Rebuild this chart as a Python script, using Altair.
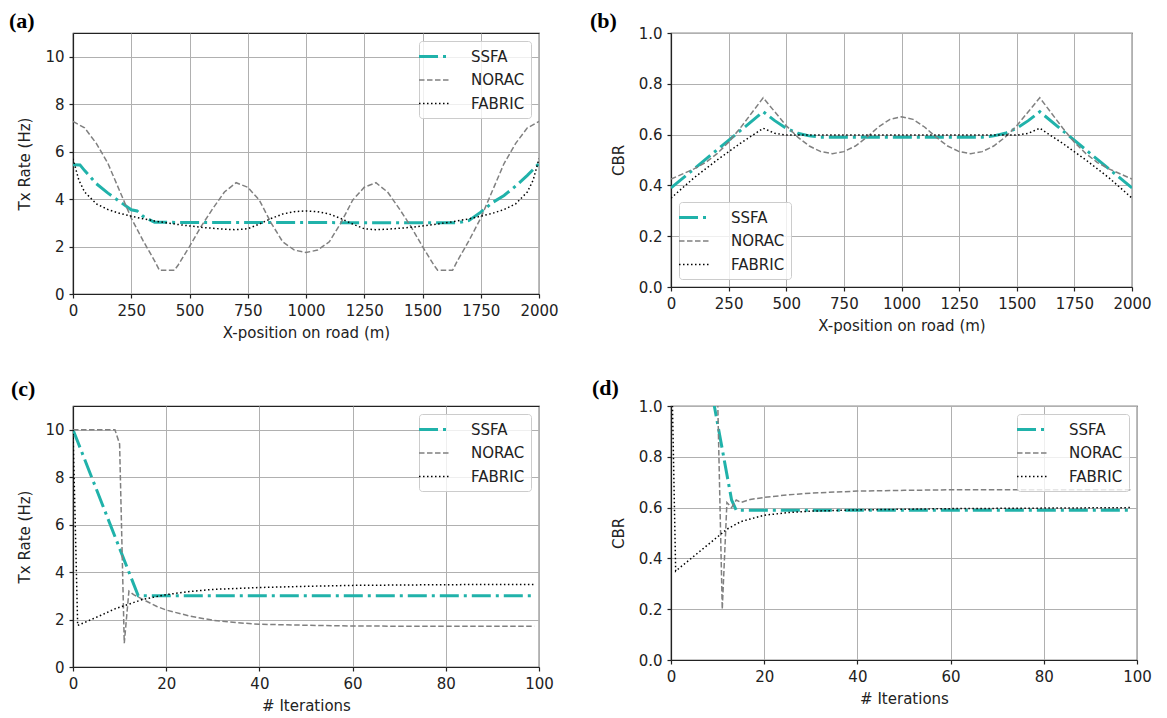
import altair as alt
import pandas as pd

SERIES = ["SSFA", "NORAC", "FABRIC"]
COLORS = ["#20b2aa", "#808080", "#000000"]
DASHES = [[19, 5, 3, 5], [5.5, 2.5], [1.5, 2.5]]
WIDTHS = [3.0, 1.5, 1.5]

# ---- panel (a): Tx rate vs position ----
a_ssfa_x = [0, 30, 50, 100, 150, 200, 250, 275, 300, 350, 1650, 1700, 1750, 1800, 1850, 1900, 1950, 2000]
a_ssfa_y = [5.45, 5.44, 5.2, 4.65, 4.25, 3.9, 3.55, 3.5, 3.28, 3.02, 3.0, 3.1, 3.45, 3.85, 4.15, 4.55, 5.0, 5.5]
a_norac_x = [0, 50, 100, 150, 200, 250, 300, 350, 371, 435, 450, 500, 550, 600, 650, 700, 750, 800, 850,
             900, 950, 1000, 1050, 1100, 1150, 1200, 1250, 1300, 1350, 1400, 1450, 1500, 1550, 1565, 1629,
             1650, 1700, 1750, 1800, 1850, 1900, 1950, 2000]
a_norac_y = [7.27, 7.0, 6.35, 5.5, 4.35, 3.2, 2.26, 1.4, 1.0, 1.0, 1.2, 2.0, 2.85, 3.6, 4.3, 4.69, 4.5, 3.95, 3.0,
             2.2, 1.85, 1.75, 1.85, 2.2, 3.0, 3.95, 4.5, 4.69, 4.3, 3.6, 2.85, 2.0, 1.2, 1.0, 1.0,
             1.4, 2.26, 3.2, 4.35, 5.5, 6.35, 7.0, 7.27]
a_fabric_x = [0, 25, 50, 100, 150, 200, 250, 300, 350, 400, 450, 500, 550, 600, 650, 700, 750, 800, 850, 900,
              950, 1000, 1050, 1100, 1150, 1200, 1250, 1300, 1350, 1400, 1450, 1500, 1550, 1600, 1650, 1700,
              1750, 1800, 1850, 1900, 1950, 1975, 2000]
a_fabric_y = [5.7, 4.8, 4.3, 3.8, 3.56, 3.4, 3.28, 3.17, 3.08, 3.0, 2.93, 2.87, 2.81, 2.77, 2.73, 2.71, 2.75,
              2.95, 3.18, 3.37, 3.47, 3.5, 3.47, 3.37, 3.18, 2.95, 2.75, 2.71, 2.73, 2.77, 2.81, 2.87, 2.93,
              3.0, 3.08, 3.17, 3.28, 3.4, 3.56, 3.8, 4.3, 4.8, 5.7]

# ---- panel (b): CBR vs position ----
b_ssfa_x = [0, 400, 450, 500, 550, 600, 650, 1350, 1400, 1450, 1500, 1550, 1600, 2000]
b_ssfa_y = [0.39, 0.69, 0.655, 0.625, 0.605, 0.595, 0.59, 0.59, 0.595, 0.605, 0.625, 0.655, 0.69, 0.39]
b_norac_x = [0, 100, 150, 200, 250, 300, 350, 400, 450, 500, 550, 600, 650, 700, 750, 800, 850, 900, 950,
             1000, 1050, 1100, 1150, 1200, 1250, 1300, 1350, 1400, 1450, 1500, 1550, 1600, 1650, 1700, 1750,
             1800, 1850, 1900, 2000]
b_norac_y = [0.425, 0.465, 0.49, 0.525, 0.57, 0.625, 0.685, 0.745, 0.69, 0.635, 0.59, 0.555, 0.533, 0.525,
             0.533, 0.555, 0.59, 0.63, 0.66, 0.67, 0.66, 0.63, 0.59, 0.555, 0.533, 0.525, 0.533, 0.555, 0.59,
             0.635, 0.69, 0.745, 0.685, 0.625, 0.57, 0.525, 0.49, 0.465, 0.425]
b_fabric_x = [0, 100, 200, 300, 400, 450, 500, 1500, 1550, 1600, 1700, 1800, 1900, 2000]
b_fabric_y = [0.35, 0.43, 0.5, 0.565, 0.625, 0.605, 0.598, 0.598, 0.605, 0.625, 0.565, 0.5, 0.43, 0.35]

# ---- panel (c): Tx rate vs iterations ----
c_ssfa_x = [0, 14, 99]
c_ssfa_y = [10, 3, 3]
c_norac_x = [0, 9, 10, 11, 12, 13, 14, 16, 18, 20, 25, 30, 35, 40, 50, 60, 70, 80, 99]
c_norac_y = [10, 10, 9.4, 1.0, 3.2, 3.05, 2.95, 2.75, 2.55, 2.4, 2.15, 1.97, 1.87, 1.8, 1.76, 1.73, 1.72, 1.72, 1.72]
c_fabric_x = [0, 1, 3, 6, 9, 12, 15, 20, 25, 30, 40, 50, 60, 80, 99]
c_fabric_y = [10, 1.75, 1.92, 2.18, 2.45, 2.65, 2.85, 3.05, 3.18, 3.27, 3.35, 3.4, 3.44, 3.47, 3.48]

# ---- panel (d): CBR vs iterations ----
d_ssfa_x = [0, 9, 13, 14, 99]
d_ssfa_y = [1.9, 1.03, 0.63, 0.59, 0.59]
d_norac_x = [0, 9, 10, 11, 12, 13, 14, 15, 17, 20, 25, 30, 40, 50, 60, 80, 99]
d_norac_y = [1.1, 1.1, 1.04, 0.2, 0.62, 0.6, 0.63, 0.62, 0.632, 0.64, 0.65, 0.657, 0.665, 0.668, 0.67, 0.67, 0.67]
d_fabric_x = [0, 1, 3, 5, 8, 10, 12, 15, 20, 25, 30, 40, 60, 80, 99]
d_fabric_y = [1.3, 0.35, 0.38, 0.41, 0.455, 0.485, 0.515, 0.545, 0.57, 0.58, 0.586, 0.591, 0.596, 0.598, 0.6]

pos_ticks = [0, 250, 500, 750, 1000, 1250, 1500, 1750, 2000]
iter_ticks = [0, 20, 40, 60, 80, 100]
rate_ticks = [0, 2, 4, 6, 8, 10]
cbr_ticks = [0.0, 0.2, 0.4, 0.6, 0.8, 1.0]


def frame(xs, ys):
    rows = []
    for name, x, y in zip(SERIES, xs, ys):
        for i, (xv, yv) in enumerate(zip(x, y)):
            rows.append({"series": name, "x": xv, "y": yv, "order": i})
    return pd.DataFrame(rows)


def panel(df, label, dx, toff, xdom, xticks, xtitle, ydom, yticks, ytitle, yfmt, lorient, w, h):
    legend = alt.Legend(
        title=None, orient=lorient, offset=8, fillColor="rgba(255,255,255,0.8)",
        strokeColor="#cccccc", cornerRadius=3, padding=6,
        symbolType="M-2,0L2,0", symbolSize=240, labelFontSize=15, labelFont="DejaVu Sans",
        labelColor="#222222", labelOffset=27, rowPadding=6.5,
    )
    return alt.Chart(df, title=alt.TitleParams(
        label, anchor="start", frame="group", dx=dx, offset=toff,
        font="Liberation Serif", fontSize=22, fontWeight="bold", color="#000000",
    )).mark_line(clip=True, strokeCap="butt").encode(
        x=alt.X("x:Q", scale=alt.Scale(domain=xdom, nice=False, zero=False),
                axis=alt.Axis(values=xticks, title=xtitle, format="d", labelFlush=False,
                              labelOverlap=False, titlePadding=7)),
        y=alt.Y("y:Q", scale=alt.Scale(domain=ydom, nice=False),
                axis=alt.Axis(values=yticks, title=ytitle, format=yfmt, labelOverlap=False,
                              titlePadding=12)),
        color=alt.Color("series:N", scale=alt.Scale(domain=SERIES, range=COLORS), legend=legend),
        strokeDash=alt.StrokeDash("series:N", scale=alt.Scale(domain=SERIES, range=DASHES), legend=legend),
        strokeWidth=alt.StrokeWidth("series:N", scale=alt.Scale(type="ordinal", domain=SERIES, range=WIDTHS),
                                    legend=legend),
        detail="series:N",
        order="order:Q",
    ).properties(width=w, height=h)


def indep(c):
    return c.resolve_scale(
        color="independent", strokeDash="independent", strokeWidth="independent",
    ).resolve_legend(
        color="independent", strokeDash="independent", strokeWidth="independent",
    )


pa = panel(frame([a_ssfa_x, a_norac_x, a_fabric_x], [a_ssfa_y, a_norac_y, a_fabric_y]), "(a)", -64, 0,
           [0, 2000], pos_ticks, "X-position on road (m)", [0, 11], rate_ticks, "Tx Rate (Hz)", "d",
           "top-right", 466, 261)
pb = panel(frame([b_ssfa_x, b_norac_x, b_fabric_x], [b_ssfa_y, b_norac_y, b_fabric_y]), "(b)", -81, -7,
           [0, 2000], pos_ticks, "X-position on road (m)", [0, 1], cbr_ticks, "CBR", ".1f",
           "bottom-left", 461, 254)
pc = panel(frame([c_ssfa_x, c_norac_x, c_fabric_x], [c_ssfa_y, c_norac_y, c_fabric_y]), "(c)", -62, 5,
           [0, 100], iter_ticks, "# Iterations", [0, 11], rate_ticks, "Tx Rate (Hz)", "d",
           "top-right", 466, 261)
pd_ = panel(frame([d_ssfa_x, d_norac_x, d_fabric_x], [d_ssfa_y, d_norac_y, d_fabric_y]), "(d)", -79, -1,
            [0, 100], iter_ticks, "# Iterations", [0, 1], cbr_ticks, "CBR", ".1f",
            "top-right", 466, 254)

chart = indep(alt.vconcat(
    indep(alt.hconcat(pa, pb, spacing=30)),
    indep(alt.hconcat(pc, pd_, spacing=37)),
    spacing=35,
    padding={"left": 0, "top": 1, "right": 2, "bottom": 2},
)).configure_axis(
    labelFont="DejaVu Sans", labelFontSize=15, labelColor="#222222",
    titleFont="DejaVu Sans", titleFontSize=15, titleFontWeight="normal", titleColor="#222222",
    domainColor="#222222", domainWidth=1.2, tickColor="#222222", tickSize=4, tickWidth=1.2,
    gridColor="#b0b0b0", gridWidth=1, labelPadding=5,
).configure_view(stroke="#222222", strokeWidth=1.2)

chart.save("out.html", embed_options={"renderer": "svg", "actions": False})
